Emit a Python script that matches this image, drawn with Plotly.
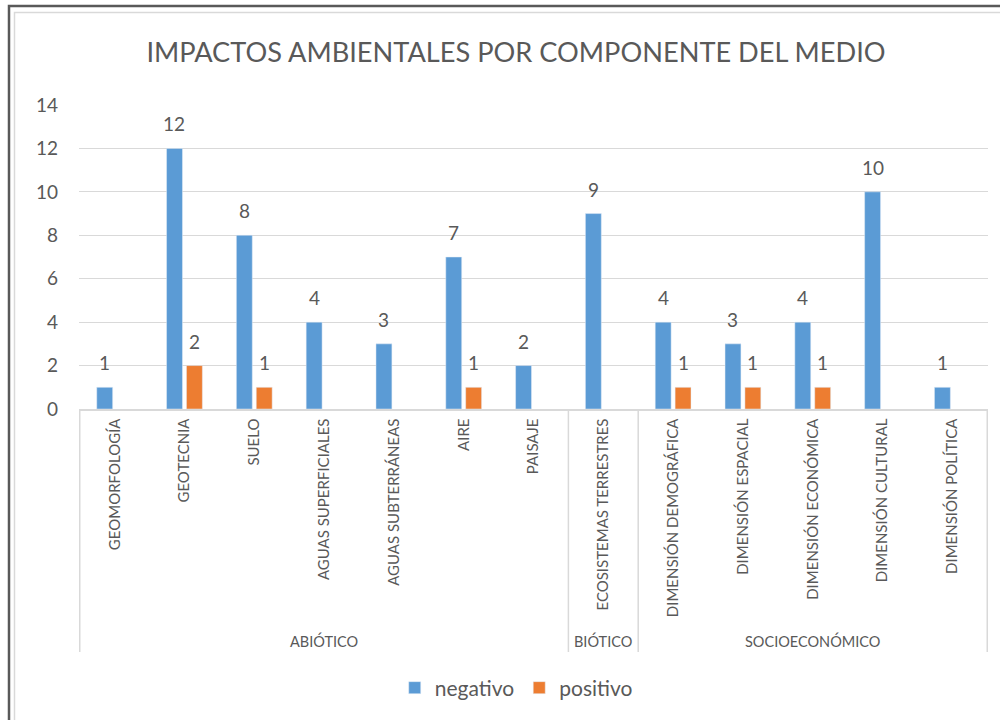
import plotly.graph_objects as go

title = "IMPACTOS AMBIENTALES POR COMPONENTE DEL MEDIO"
categories = ["GEOMORFOLOGÍA", "GEOTECNIA", "SUELO", "AGUAS SUPERFICIALES",
              "AGUAS SUBTERRÁNEAS", "AIRE", "PAISAJE", "ECOSISTEMAS TERRESTRES",
              "DIMENSIÓN DEMOGRÁFICA", "DIMENSIÓN ESPACIAL", "DIMENSIÓN ECONÓMICA",
              "DIMENSIÓN CULTURAL", "DIMENSIÓN POLÍTICA"]
groups = ["ABIÓTICO"] * 7 + ["BIÓTICO"] + ["SOCIOECONÓMICO"] * 5
negativo = [1, 12, 8, 4, 3, 7, 2, 9, 4, 3, 4, 10, 1]
positivo = [0, 2, 1, 0, 0, 1, 0, 0, 1, 1, 1, 0, 0]
y_ticks = [0, 2, 4, 6, 8, 10, 12, 14]

BLUE = "#5B9BD5"
ORANGE = "#ED7D31"
TXT = "#595959"
GRID = "#D9D9D9"
FONT = "Lato"

W, H = 1000, 720
L, R, T, B = 79, 12, 105, 311
pw, ph = W - L - R, H - T - B

def px_x(p):
    return (p - L) / pw

def px_y(p):
    return (H - B - p) / ph

fig = go.Figure()
fig.add_trace(go.Bar(x=categories, y=negativo, name="negativo",
                     marker=dict(color=BLUE)))
fig.add_trace(go.Bar(x=categories, y=[v if v else None for v in positivo],
                     name="positivo", marker=dict(color=ORANGE)))

annotations = []
for series, shift in ((negativo, -10), (positivo, 10)):
    for c, v in zip(categories, series):
        if v:
            annotations.append(dict(x=c, y=v, xref="x", yref="y", text=str(v),
                                    showarrow=False, yanchor="bottom", xshift=shift,
                                    yshift=11, font=dict(family=FONT, size=19, color=TXT)))

# group labels and dividers
shapes = []
start = 0
bounds = [-0.5]
for i in range(1, len(groups) + 1):
    if i == len(groups) or groups[i] != groups[start]:
        annotations.append(dict(x=(start + i - 1) / 2, y=px_y(641), xref="x", yref="paper",
                                text=groups[start], showarrow=False, yanchor="middle",
                                font=dict(family=FONT, size=14.5, color=TXT)))
        bounds.append(i - 0.5)
        start = i
for b in bounds:
    shapes.append(dict(type="line", xref="x", yref="paper", x0=b, x1=b,
                       y0=0, y1=px_y(652), line=dict(color=GRID, width=1.5)))

# outer frame
shapes.append(dict(type="rect", xref="paper", yref="paper",
                   x0=px_x(9), x1=px_x(1010), y0=px_y(730), y1=px_y(6),
                   line=dict(color="#595959", width=2.5), layer="below"))
shapes.append(dict(type="rect", xref="paper", yref="paper",
                   x0=px_x(14.5), x1=px_x(1010), y0=px_y(730), y1=px_y(12.5),
                   line=dict(color=GRID, width=1.5), layer="below"))

fig.update_layout(
    width=W, height=H,
    margin=dict(l=L, r=R, t=T, b=B),
    paper_bgcolor="white", plot_bgcolor="white",
    title=dict(text=title, x=516 / W, xref="container", xanchor="center",
               y=1 - 52 / H, yref="container", yanchor="middle",
               font=dict(family=FONT, size=27.2, color=TXT)),
    barmode="group", bargap=0.43, bargroupgap=0.2,
    showlegend=True,
    legend=dict(orientation="h", x=0.481, xanchor="center", y=px_y(688), yanchor="middle",
                font=dict(family=FONT, size=21, color=TXT), itemwidth=30,
                traceorder="normal"),
    annotations=annotations,
    shapes=shapes,
    font=dict(family=FONT, color=TXT),
)
fig.update_xaxes(type="category", tickangle=-90, showgrid=False, showline=True,
                 linecolor=GRID, linewidth=1.5, ticks="", ticklabelstandoff=2,
                 tickfont=dict(family=FONT, size=15, color=TXT), fixedrange=True)
fig.update_yaxes(range=[0, 14], tickvals=y_ticks, showgrid=True, gridcolor=GRID,
                 gridwidth=1.2, zeroline=False, showline=False, ticks="",
                 ticklabelstandoff=20,
                 tickfont=dict(family=FONT, size=19, color=TXT), fixedrange=True)

fig.write_html("out.html", config={"displayModeBar": False, "staticPlot": True},
               post_script="document.body.style.margin='0';document.body.style.overflow='hidden';")
